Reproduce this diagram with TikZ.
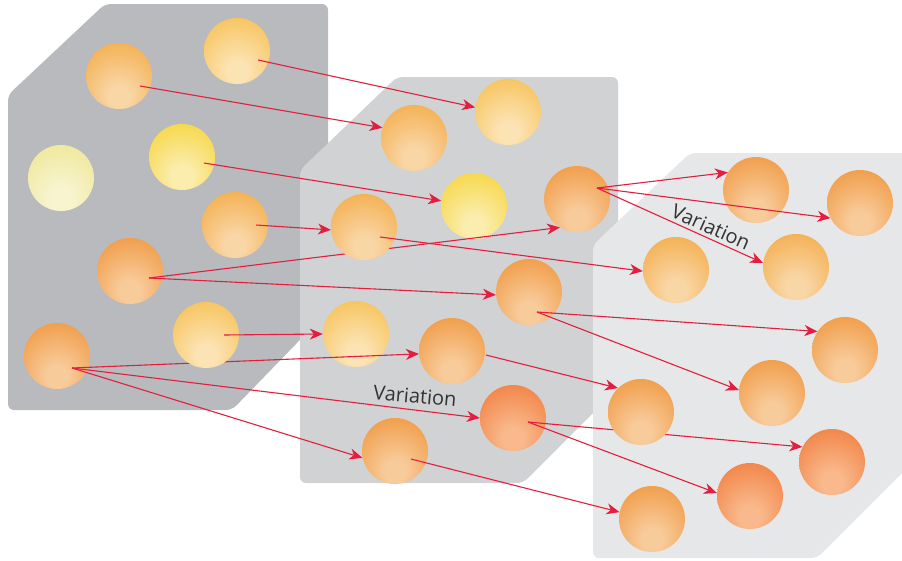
\documentclass[tikz,border=0pt]{standalone}
\usepackage{fontspec}
\setmainfont{Open Sans}
\usetikzlibrary{arrows.meta}
\definecolor{panelA}{HTML}{B9BABD}
\definecolor{panelB}{HTML}{D1D2D4}
\definecolor{panelC}{HTML}{E6E7E8}
\definecolor{arrowred}{HTML}{E31E3F}
\definecolor{labelgray}{HTML}{333333}
\colorlet{beadin}{white}
\colorlet{beadout}{orange}
\pgfdeclareradialshading[beadin,beadout]{bead}{\pgfpoint{0bp}{-18bp}}{color(0bp)=(beadin); color(8bp)=(beadin); color(44bp)=(beadout); color(60bp)=(beadout)}
\pgfdeclarelayer{panel}
\pgfdeclarelayer{front}
\pgfdeclarelayer{top}
\pgfsetlayers{panel,main,front,top}
\tikzset{
  bead/.style={circle, minimum size=66, inner sep=0pt, shading=bead},
  tint/.style 2 args={bead, /utils/exec={\definecolor{beadin}{HTML}{#1}\definecolor{beadout}{HTML}{#2}}},
  pale/.style={tint={F8F4D0}{ECE48A}},
  lemon/.style={tint={FBEDAE}{F5D026}},
  gold/.style={tint={FCE3B3}{F5B940}},
  amber/.style={tint={F9D6A6}{F2A335}},
  tang/.style={tint={F8CB9B}{EE8D2C}},
  ember/.style={tint={F9B98C}{EF722F}},
  flow/.style={draw=arrowred, line width=1.1pt, -{Stealth[length=13pt,width=11pt,inset=4pt]}},
  note/.style={text=labelgray, font=\fontsize{20}{24}\selectfont, inner sep=0pt}
}
\begin{document}
\begin{tikzpicture}[x=1pt, y=-1pt]
  \useasboundingbox (0,0) rectangle (902,560);
  \begin{pgfonlayer}{panel}
    \fill[panelA, rounded corners=6] (105,4) -- (328,4) -- (328,311) -- (232,410) -- (8,410) -- (8,95) -- cycle;
    \fill[panelB, rounded corners=6] (397,77) -- (618,77) -- (618,388) -- (523,483) -- (300,483) -- (300,170) -- cycle;
    \fill[panelC, rounded corners=6] (690,153) -- (910,153) -- (910,465) -- (817,558) -- (593,558) -- (593,245) -- cycle;
  \end{pgfonlayer}
  \node[amber] (A1) at (119,76) {};
  \node[gold]  (A2) at (237,51) {};
  \node[pale]  (A3) at (61,178) {};
  \node[lemon] (A4) at (182,157) {};
  \node[amber] (A5) at (235,225) {};
  \node[tang]  (A6) at (130,271) {};
  \node[tang]  (A8) at (57,356) {};
  \node[amber] (B1) at (414,138) {};
  \node[gold]  (B2) at (508,112) {};
  \node[lemon] (B3) at (474,206) {};
  \node[tang]  (B5) at (577,199) {};
  \node[tang]  (B6) at (529,292) {};
  \node[gold]  (B7) at (356,334) {};
  \node[tang]  (B8) at (452,351) {};
  \node[ember] (B9) at (513,418) {};
  \node[tang]  (B10) at (395,451) {};
  \node[tang]  (C1) at (756,190) {};
  \node[tang]  (C2) at (860,203) {};
  \node[amber] (C3) at (676,270) {};
  \node[amber] (C4) at (796,267) {};
  \node[tang]  (C5) at (845,350) {};
  \node[tang]  (C6) at (772,393) {};
  \node[ember] (C8) at (832,462) {};
  \node[ember] (C9) at (750,496) {};
  \node[tang]  (C10) at (652,519) {};
  \begin{pgfonlayer}{front}
    \node[gold]  (A7) at (206,335) {};
    \node[amber] (B4) at (364,227) {};
    \node[tang]  (C7) at (641,412) {};
  \end{pgfonlayer}
  \begin{scope}[flow]
    \draw ([shift={(21,9)}]A2.center) to (B2.172);
    \draw ([shift={(21,10)}]A1.center) to (B1.162);
    \draw ([shift={(22,6)}]A4.center) to (B3.171);
    \draw ([shift={(21,0)}]A5.center) to (B4.185);
    \draw ([shift={(19,7)}]A6.center) to (B5.239);
    \draw ([shift={(19,7)}]A6.center) to (B6.185);
    \draw ([shift={(15,12)}]A8.center) to (B8.185);
    \draw ([shift={(15,12)}]A8.center) to (B9.180);
    \draw ([shift={(15,12)}]A8.center) to (B10.192);
    \draw ([shift={(20,-11)}]B5.center) to (C1.148);
    \draw ([shift={(20,-11)}]B5.center) to (C2.207);
    \draw ([shift={(20,-11)}]B5.center) to (C4.173);
    \draw ([shift={(8,20)}]B6.center) to (C5.146);
    \draw ([shift={(8,20)}]B6.center) to (C6.175);
    \draw ([shift={(34,4)}]B8.center) to (C7.134);
    \draw ([shift={(15,4)}]B9.center) to (C8.153);
    \draw ([shift={(15,4)}]B9.center) to (C9.175);
    \draw ([shift={(16,8)}]B10.center) to (C10.168);
  \end{scope}
  \begin{pgfonlayer}{top}
    \begin{scope}[flow]
      \draw ([shift={(18,0)}]A7.center) to (B7.180);
      \draw ([shift={(16,10)}]B4.center) to (C3.182);
    \end{scope}
    \node[note, rotate=-5] (var1) at (415,396) {Variation};
    \node[note, rotate=-24] (var2) at (711,227) {Variation};
  \end{pgfonlayer}
\end{tikzpicture}
\end{document}
